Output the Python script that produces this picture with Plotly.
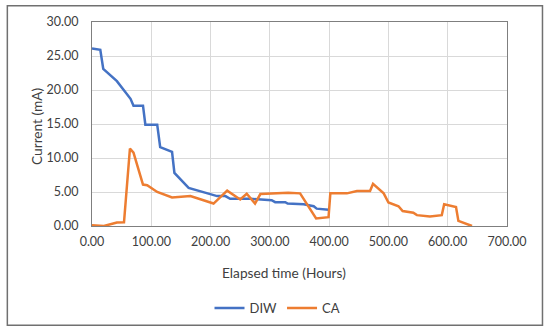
import plotly.graph_objects as go

diw_x = [0, 14, 19, 42, 65, 70, 86, 90, 110, 115, 135, 139, 163, 211, 225, 233, 267, 303, 309, 326, 330, 357, 374, 379, 399]
diw_y = [26.1, 25.9, 23.1, 21.3, 18.7, 17.7, 17.7, 14.9, 14.9, 11.6, 10.9, 7.8, 5.6, 4.4, 4.4, 4.0, 4.0, 3.8, 3.5, 3.5, 3.3, 3.2, 2.9, 2.55, 2.4]

ca_x = [0, 20, 42, 54, 64, 70, 86, 93, 110, 135, 166, 205, 228, 250, 261, 275, 284, 309, 331, 351, 365, 378, 399, 402, 430, 447, 469, 474, 492, 500, 517, 524, 542, 548, 570, 590, 594, 614, 618, 641]
ca_y = [0.1, 0.0, 0.5, 0.55, 11.4, 10.8, 6.1, 6.0, 5.0, 4.2, 4.4, 3.3, 5.2, 3.9, 4.75, 3.3, 4.7, 4.8, 4.9, 4.8, 2.9, 1.1, 1.3, 4.8, 4.8, 5.15, 5.15, 6.2, 4.8, 3.45, 2.9, 2.2, 1.95, 1.6, 1.4, 1.6, 3.2, 2.8, 0.75, 0.0]

x_ticks = [0, 100, 200, 300, 400, 500, 600, 700]
y_ticks = [0, 5, 10, 15, 20, 25, 30]

FONT = "Lato"
TXT = "#404040"

fig = go.Figure()
fig.add_trace(go.Scatter(x=diw_x, y=diw_y, mode="lines", name="DIW",
                         line=dict(color="#4472C4", width=2.5)))
fig.add_trace(go.Scatter(x=ca_x, y=ca_y, mode="lines", name="CA",
                         line=dict(color="#ED7D31", width=2.5)))

fig.update_layout(
    width=550, height=334,
    margin=dict(l=92, r=43, t=22, b=107),
    paper_bgcolor="white", plot_bgcolor="white",
    font=dict(family=FONT, size=12, color=TXT),
    showlegend=True,
    legend=dict(orientation="h", x=0.447, xanchor="center", y=-0.395, yanchor="middle",
                font=dict(family=FONT, size=13, color=TXT), itemwidth=30,
                tracegroupgap=0, bgcolor="rgba(0,0,0,0)"),
    xaxis=dict(range=[0, 700], tickvals=x_ticks, ticktext=[f"{v:.2f}" for v in x_ticks],
               showgrid=True, gridcolor="#d9d9d9", gridwidth=1, zeroline=False,
               showline=True, linecolor="#7f7f7f", linewidth=1, mirror=True,
               ticks="", ticklabelstandoff=4, tickfont=dict(size=12.5, color=TXT, family=FONT)),
    yaxis=dict(range=[0, 30], tickvals=y_ticks, ticktext=[f"{v:.2f}" for v in y_ticks],
               showgrid=True, gridcolor="#d9d9d9", gridwidth=1, zeroline=False,
               showline=True, linecolor="#7f7f7f", linewidth=1, mirror=True,
               ticks="", ticklabelstandoff=10, tickfont=dict(size=12.5, color=TXT, family=FONT)),
    annotations=[
        dict(text="Elapsed time (Hours)", xref="paper", yref="paper", x=0.463, y=-0.229,
             xanchor="center", yanchor="middle", showarrow=False,
             font=dict(family=FONT, size=13.7, color=TXT)),
        dict(text="Current (mA)", xref="paper", yref="paper", x=-0.135, y=0.49,
             xanchor="center", yanchor="middle", showarrow=False, textangle=-90,
             font=dict(family=FONT, size=13.7, color=TXT)),
    ],
    shapes=[
        dict(type="rect", xref="paper", yref="paper", x0=-0.204, x1=1.0855, y0=-0.486, y1=1.080,
             line=dict(color="#707070", width=1.5), fillcolor="rgba(0,0,0,0)", layer="below"),
    ],
)

fig.write_html("out.html", config={"displayModeBar": False},
               post_script="document.body.style.margin='0px';document.body.style.padding='0px';")
